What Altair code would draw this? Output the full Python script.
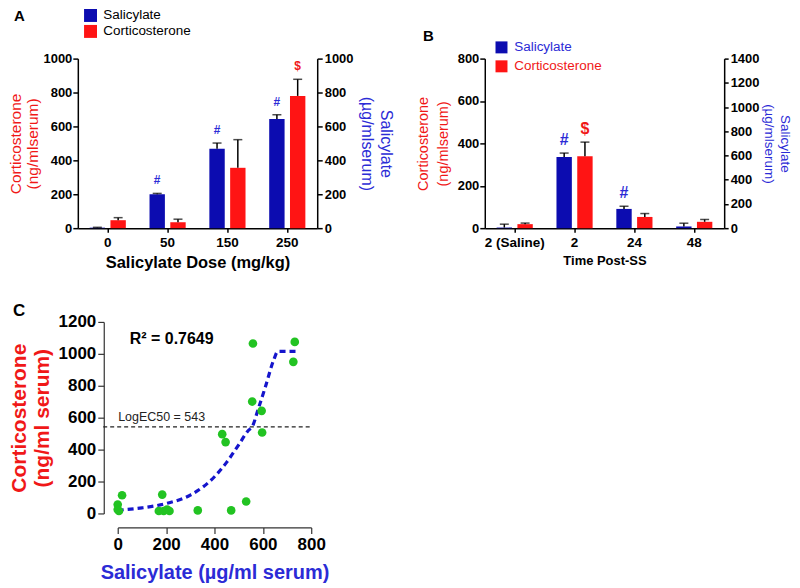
import altair as alt
import pandas as pd

FONT = "Liberation Sans"
BLUE = "#0c0cb0"
RED = "#ff1414"
BLUE_T = "#2b2bd6"
RED_T = "#f01818"
GREEN = "#22c322"

series = ["Salicylate", "Corticosterone"]

# Panel A
doses = ["0", "50", "150", "250"]
a_sal = [3, 200, 468, 644]
a_sal_sem = [2, 5, 34, 25]
a_cort = [47, 35, 356, 780]
a_cort_sem = [15, 18, 166, 98]
a_sal_sig = ["", "#", "#", "#"]
a_cort_sig = ["", "", "", "$"]

# Panel B
times = ["2 (Saline)", "2", "24", "48"]
b_sal = [5, 587, 159, 14]
b_sal_sem = [28, 33, 22, 27]
b_cort = [19, 339, 53, 30]
b_cort_sem = [5, 67, 16, 11]
b_sal_sig = ["", "#", "#", ""]
b_cort_sig = ["", "$", "", ""]

# Panel C
c_sal = [0, 0, 5, 18, 170, 184, 190, 204, 214, 331, 432, 446, 469, 531, 556, 559, 595, 597, 726, 732]
c_cort = [56, 25, 15, 114, 15, 118, 15, 25, 15, 19, 497, 447, 19, 75, 701, 1065, 643, 507, 950, 1075]
fit_x = [0, 100, 200, 300, 400, 450, 500, 540, 556, 580, 611, 645, 662, 700, 742]
fit_y = [20, 35, 62, 115, 230, 320, 430, 520, 543, 650, 796, 962, 1015, 1015, 1015]
ec50 = 543
r2_label = "R\u00b2 = 0.7649"
ec50_label = "LogEC50 = 543"


def bar_panel(cats, sal, sal_sem, sal_sig, cort, cort_sem, cort_sig,
              left_max, right_max, xtitle, xtitle_size, ytitle_size, rtitle_size,
              legend_x, legend_y, sym_size, row_pad, label_colors,
              letter, letter_x, letter_y, sig_size, rpad, rlh, rtick, lpad, llh):
    df_s = pd.DataFrame({"cat": cats, "series": "Salicylate", "v": sal,
                         "top": [a + b for a, b in zip(sal, sal_sem)], "sig": sal_sig})
    df_c = pd.DataFrame({"cat": cats, "series": "Corticosterone", "v": cort,
                         "top": [a + b for a, b in zip(cort, cort_sem)], "sig": cort_sig})

    x = alt.X("cat:N", sort=cats,
              scale=alt.Scale(paddingInner=0, paddingOuter=0),
              axis=alt.Axis(title=xtitle, labelAngle=0, labelFontSize=13.5,
                            labelFontWeight="bold", labelColor="black",
                            titleFontSize=xtitle_size, titleFontWeight="bold",
                            titleColor="black", tickSize=4, tickWidth=1.5,
                            domainWidth=1.5, domainColor="black", tickColor="black",
                            labelPadding=3, titlePadding=6))
    xo = alt.XOffset("series:N", sort=series,
                     scale=alt.Scale(domain=series, paddingInner=0.26, paddingOuter=0.57))
    if label_colors:
        lcolor = {"expr": "datum.label == 'Salicylate' ? '%s' : '%s'" % (BLUE_T, RED_T)}
    else:
        lcolor = "black"
    leg = alt.Legend(title=None, orient="none", legendX=legend_x, legendY=legend_y,
                     symbolType="square", symbolSize=sym_size, symbolStrokeWidth=0,
                     labelFont=FONT, labelFontSize=13.5, labelColor=lcolor,
                     labelOffset=6, rowPadding=row_pad, padding=0)
    color = alt.Color("series:N", scale=alt.Scale(domain=series, range=[BLUE, RED]), legend=leg)

    def yaxis(orient, maxv, title, tcolor, tsize, tpad, tlh, tick, lp):
        return alt.Axis(orient=orient, values=list(range(0, maxv + 1, 200)), title=title,
                        format="d", labelFlush=False,
                        titleColor=tcolor, titleFontSize=tsize, titleFontWeight="normal",
                        titleLineHeight=tlh, titlePadding=tpad,
                        labelFontSize=13, labelFontWeight="bold", labelColor="black",
                        tickSize=tick, tickWidth=1.5, domainWidth=1.5, domainColor="black",
                        tickColor="black", labelPadding=lp)

    def layer_for(df, maxv, orient, title, tcolor, tsize, tpad, tlh, tick, lp):
        ax = yaxis(orient, maxv, title, tcolor, tsize, tpad, tlh, tick, lp)
        sc = alt.Scale(domain=[0, maxv], nice=False)
        base = alt.Chart(df)
        bars = base.mark_bar().encode(x=x, xOffset=xo, y=alt.Y("v:Q", scale=sc, axis=ax), color=color)
        rule = base.mark_rule(color="black", strokeWidth=1.5).encode(
            x=x, xOffset=xo, y=alt.Y("v:Q", scale=sc, axis=ax), y2="top:Q")
        cap = base.mark_tick(color="black", size=9, thickness=1.5).encode(
            x=x, xOffset=xo, y=alt.Y("top:Q", scale=sc, axis=ax))
        sig = base.mark_text(color=tcolor, fontWeight="bold", fontSize=sig_size,
                             dy=-13, baseline="middle", font=FONT).encode(
            x=x, xOffset=xo, y=alt.Y("top:Q", scale=sc, axis=ax), text="sig:N")
        return alt.layer(bars, rule, cap, sig)

    red_layer = layer_for(df_c, left_max, "left", ["Corticosterone", "(ng/mlserum)"],
                          RED_T, ytitle_size, lpad, llh, 5, 1)
    blue_layer = layer_for(df_s, right_max, "right", ["Salicylate", "(\u00b5g/mlserum)"],
                           BLUE_T, rtitle_size, rpad, rlh, rtick, 2)

    letter_df = pd.DataFrame({"t": [letter]})
    letter_mark = alt.Chart(letter_df).mark_text(fontSize=15, fontWeight="bold", align="left",
                                                 baseline="top", font=FONT, color="black").encode(
        x=alt.value(letter_x), y=alt.value(letter_y), text="t:N")

    return alt.layer(red_layer, blue_layer, letter_mark).resolve_scale(y="independent").properties(
        width=240, height=170)


A = bar_panel(doses, a_sal, a_sal_sem, a_sal_sig, a_cort, a_cort_sem, a_cort_sig,
              1000, 1000, "Salicylate Dose (mg/kg)", 16.5, 15.5, 16,
              6, -50, 169, 1, False, "A", -64, -50, 12, 5, 20, 5, 3, 17)
B = bar_panel(times, b_sal, b_sal_sem, b_sal_sig, b_cort, b_cort_sem, b_cort_sig,
              800, 1400, "Time Post-SS", 13, 14.5, 13.5,
              10, -18, 144, 4, True, "B", -62, -30, 16, 3, 16, 4, 7, 20)

# Panel C
df_pts = pd.DataFrame({"x": c_sal, "y": c_cort})
df_fit = pd.DataFrame({"x": fit_x, "y": fit_y})
xs = alt.Scale(domain=[0, 800], range=[40, 234], nice=False)
ys = alt.Scale(domain=[0, 1200], nice=False)
xax = alt.Axis(values=[0, 200, 400, 600, 800], title="Salicylate (\u00b5g/ml serum)",
               format="d", labelFlush=False,
               titleColor=BLUE_T, titleFontSize=20, titleFontWeight="bold", titlePadding=10,
               labelFontSize=17, labelFontWeight="bold", labelColor="black",
               offset=14, tickSize=6, tickWidth=1.2, domainWidth=1.2,
               domainColor="#333", tickColor="#333", labelPadding=3)
yax = alt.Axis(values=list(range(0, 1201, 200)), title=["Corticosterone", "(ng/ml serum)"],
               format="d", labelFlush=False,
               titleColor=RED_T, titleFontSize=21, titleFontWeight="bold", titleLineHeight=23,
               titlePadding=6, labelFontSize=17, labelFontWeight="bold", labelColor="black",
               offset=-26, tickSize=6, tickWidth=1.2, domainWidth=1.2,
               domainColor="#333", tickColor="#333", labelPadding=2)

pts = alt.Chart(df_pts).mark_circle(size=75, color=GREEN, opacity=1).encode(
    x=alt.X("x:Q", scale=xs, axis=xax), y=alt.Y("y:Q", scale=ys, axis=yax))
fit = alt.Chart(df_fit).mark_line(color="#1515cc", strokeWidth=3.2, strokeDash=[6, 4],
                                  interpolate="monotone").encode(
    x=alt.X("x:Q", scale=xs, axis=xax), y=alt.Y("y:Q", scale=ys, axis=yax))
ec_df = pd.DataFrame({"x0": [-60], "x1": [800], "y": [ec50], "t": [ec50_label]})
ec_rule = alt.Chart(ec_df).mark_rule(color="#222", strokeWidth=1.2, strokeDash=[4, 3]).encode(
    x=alt.X("x0:Q", scale=xs, axis=xax), x2="x1:Q", y=alt.Y("y:Q", scale=ys, axis=yax))
ec_text = alt.Chart(ec_df).mark_text(align="left", baseline="bottom", dy=-3, dx=15,
                                     fontSize=12.5, font=FONT, color="#222").encode(
    x=alt.X("x0:Q", scale=xs, axis=xax), y=alt.Y("y:Q", scale=ys, axis=yax), text="t:N")
r2_df = pd.DataFrame({"x": [50], "y": [1090], "t": [r2_label]})
r2_text = alt.Chart(r2_df).mark_text(align="left", baseline="middle", fontSize=16,
                                     fontWeight="bold", font=FONT, color="black").encode(
    x=alt.X("x:Q", scale=xs, axis=xax), y=alt.Y("y:Q", scale=ys, axis=yax), text="t:N")
c_letter = alt.Chart(pd.DataFrame({"t": ["C"]})).mark_text(fontSize=17, fontWeight="bold",
                                                          align="left", baseline="top",
                                                          font=FONT, color="black").encode(
    x=alt.value(-65), y=alt.value(-19), text="t:N")
C = alt.layer(ec_rule, ec_text, fit, pts, r2_text, c_letter).properties(width=234, height=192)

chart = alt.concat(A, B, C, columns=2, spacing={"column": 168, "row": 94},
                   bounds="flush").resolve_scale(color="independent").properties(
    padding=0).configure(font=FONT).configure_view(stroke=None).configure_axis(grid=False)

chart.save("out.html", embed_options={"renderer": "svg", "actions": False})
